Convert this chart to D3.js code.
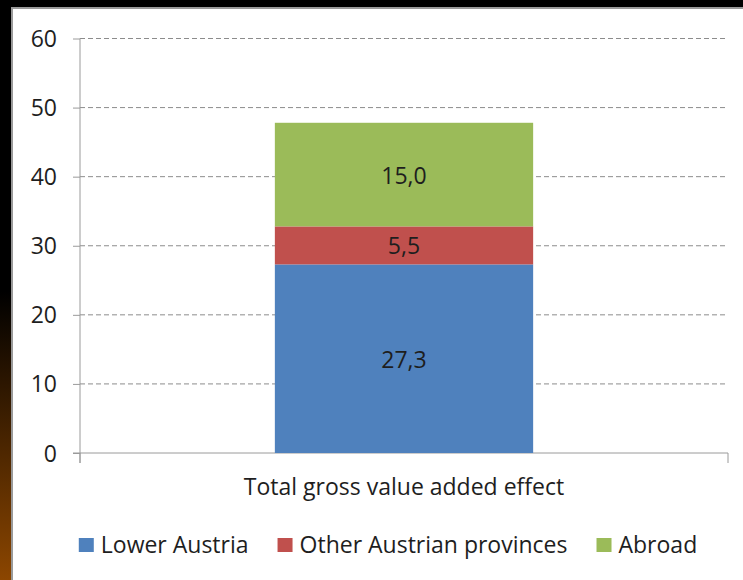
<!DOCTYPE html>
<meta charset="utf-8">
<style>
body { margin:0; background:#000; }
text { font-family: "Open Sans", "Noto Sans", sans-serif; fill:#1e1e1e; }
</style>
<body>
<svg width="743" height="580" id="vis"></svg>
<script src="https://d3js.org/d3.v7.min.js"></script>
<script>
// chart values
var categories = ["Total gross value added effect"];
var seriesNames = ["Lower Austria", "Other Austrian provinces", "Abroad"];
var seriesValues = [[27.3], [5.5], [15.0]];
var seriesLabels = ["27,3", "5,5", "15,0"];
var yTicks = [0, 10, 20, 30, 40, 50, 60];
var colours = ["#4f81bd", "#c0504d", "#9bbb59"];

var fontSize = "23px";

var svg = d3.select("svg"),
    W = +svg.attr("width"), H = +svg.attr("height");

// backdrop: black with a warm gradient on the left strip
var defs = svg.append("defs");
var grad = defs.append("linearGradient").attr("id", "strip")
    .attr("x1", 0).attr("y1", 0).attr("x2", 0).attr("y2", 1);
grad.append("stop").attr("offset", "0%").attr("stop-color", "#000");
grad.append("stop").attr("offset", "100%").attr("stop-color", "#8c4600");
svg.append("rect").attr("width", W).attr("height", H).attr("fill", "#000");
svg.append("rect").attr("x", 0).attr("y", 292).attr("width", 12).attr("height", H - 292)
    .attr("fill", "url(#strip)");

// white panel
svg.append("rect")
    .attr("x", 12).attr("y", 8).attr("width", W).attr("height", H)
    .attr("fill", "#fff").attr("stroke", "#9a9a9a").attr("stroke-width", 2);

var margin = {left: 80, right: 15, top: 38.5, bottom: 127};
var x0 = margin.left, x1 = W - margin.right,
    yTop = margin.top, yBot = H - margin.bottom;

var x = d3.scaleBand().domain(categories).range([x0, x1]).padding(0.43);
var y = d3.scaleLinear().domain([0, 60]).range([yBot, yTop]);

// gridlines
svg.append("g").selectAll("line").data(yTicks.filter(function(d){ return d > 0; }))
  .enter().append("line")
    .attr("x1", x0).attr("x2", x1)
    .attr("y1", function(d){ return y(d); }).attr("y2", function(d){ return y(d); })
    .attr("stroke", "#8c8c8c").attr("stroke-width", 1)
    .attr("stroke-dasharray", "5,3");

// y axis
var yaxis = svg.append("g")
    .attr("transform", "translate(" + x0 + ",0)")
    .call(d3.axisLeft(y).tickValues(yTicks).tickSize(7).tickPadding(16).tickSizeOuter(0));
yaxis.select(".domain").attr("stroke", "#9a9a9a").attr("d", "M0," + y(60) + "V" + (yBot + 10));
yaxis.selectAll(".tick line").attr("stroke", "#9a9a9a");
yaxis.attr("font-family", null).attr("font-size", null);
yaxis.selectAll("text").style("font-size", fontSize).attr("dy", "0.35em");

// x axis (ticks at category boundaries)
var xaxis = svg.append("g");
xaxis.append("line").attr("x1", x0 - 7).attr("x2", x1)
    .attr("y1", yBot).attr("y2", yBot).attr("stroke", "#9a9a9a");
xaxis.selectAll("line.b").data(x.range()).enter().append("line")
    .attr("class", "b")
    .attr("x1", function(d){ return d; }).attr("x2", function(d){ return d; })
    .attr("y1", yBot).attr("y2", yBot + 10).attr("stroke", "#9a9a9a");
xaxis.selectAll("text").data(categories).enter().append("text")
    .attr("x", function(d){ return x(d) + x.bandwidth() / 2; })
    .attr("y", yBot + 42)
    .attr("text-anchor", "middle")
    .style("font-size", fontSize)
    .text(function(d){ return d; });

// stacked bars
var rows = categories.map(function(c, i) {
    var r = {cat: c};
    seriesNames.forEach(function(s, j){ r[s] = seriesValues[j][i]; });
    return r;
});
var stacked = d3.stack().keys(seriesNames)(rows);

var layers = svg.append("g").selectAll("g").data(stacked).enter().append("g")
    .attr("fill", function(d, i){ return colours[i]; });

layers.selectAll("rect").data(function(d){ return d; }).enter().append("rect")
    .attr("x", function(d){ return x(d.data.cat); })
    .attr("width", x.bandwidth())
    .attr("y", function(d){ return y(d[1]); })
    .attr("height", function(d){ return y(d[0]) - y(d[1]); });

layers.each(function(layer, i) {
    d3.select(this).selectAll("text").data(layer).enter().append("text")
        .attr("x", function(d){ return x(d.data.cat) + x.bandwidth() / 2; })
        .attr("y", function(d){ return (y(d[0]) + y(d[1])) / 2 + 1; })
        .attr("dy", "0.35em")
        .attr("text-anchor", "middle")
        .style("font-size", fontSize)
        .text(seriesLabels[i]);
});

// legend
var legend = svg.append("g").attr("transform", "translate(0,545)");
var items = legend.selectAll("g").data(seriesNames).enter().append("g");
items.append("rect").attr("width", 15).attr("height", 14).attr("y", -7)
    .attr("fill", function(d, i){ return colours[i]; });
items.append("text").attr("x", 22).attr("dy", "0.35em")
    .style("font-size", fontSize)
    .text(function(d){ return d; });
var pos = 0, offsets = [];
items.each(function() {
    offsets.push(pos);
    pos += 22 + d3.select(this).select("text").node().getComputedTextLength() + 29;
});
var total = pos - 29, start = 388 - total / 2;
items.attr("transform", function(d, i){ return "translate(" + (start + offsets[i]) + ",0)"; });
</script>
</body>
